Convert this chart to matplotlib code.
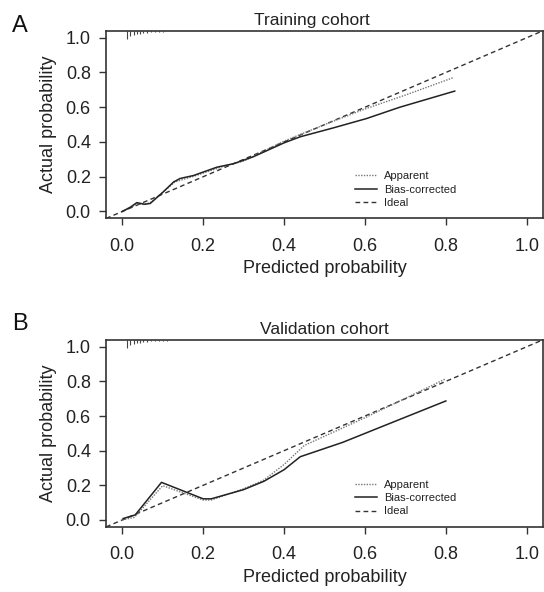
import matplotlib
matplotlib.use("Agg")
import matplotlib.pyplot as plt

plt.rcParams['font.family'] = ['Liberation Sans', 'DejaVu Sans']

# ---- data ----
train_app_x = [0.0, 0.02, 0.036, 0.055, 0.069, 0.1, 0.13, 0.18, 0.25, 0.3, 0.4, 0.5, 0.6, 0.7, 0.818]
train_app_y = [0.0, 0.02, 0.045, 0.04, 0.05, 0.11, 0.17, 0.205, 0.26, 0.29, 0.405, 0.5, 0.59, 0.67, 0.77]
train_bc_x = [0.0, 0.02, 0.036, 0.055, 0.069, 0.1, 0.127, 0.143, 0.176, 0.234, 0.275, 0.324, 0.4, 0.44, 0.52, 0.604, 0.686, 0.822]
train_bc_y = [0.0, 0.025, 0.051, 0.042, 0.046, 0.11, 0.17, 0.19, 0.207, 0.255, 0.275, 0.315, 0.395, 0.43, 0.48, 0.535, 0.6, 0.693]

val_app_x = [0.0, 0.03, 0.1, 0.2, 0.22, 0.3, 0.35, 0.4, 0.45, 0.6, 0.8]
val_app_y = [0.0, 0.015, 0.198, 0.115, 0.115, 0.18, 0.23, 0.32, 0.43, 0.59, 0.815]
val_bc_x = [0.002, 0.032, 0.097, 0.2, 0.22, 0.3, 0.35, 0.4, 0.44, 0.545, 0.627, 0.8]
val_bc_y = [0.008, 0.029, 0.217, 0.122, 0.122, 0.175, 0.223, 0.29, 0.365, 0.448, 0.525, 0.687]

rug_x = [0.012, 0.02, 0.028, 0.036, 0.044, 0.052, 0.06, 0.07, 0.08, 0.09, 0.1, 0.11]
rug_h = [0.045, 0.03, 0.025, 0.02, 0.016, 0.013, 0.011, 0.009, 0.007, 0.006, 0.005, 0.004]

ticks = [0.0, 0.2, 0.4, 0.6, 0.8, 1.0]
tick_labels = ['0.0', '0.2', '0.4', '0.6', '0.8', '1.0']
panels = [
    ('A', 'Training cohort', train_app_x, train_app_y, train_bc_x, train_bc_y),
    ('B', 'Validation cohort', val_app_x, val_app_y, val_bc_x, val_bc_y),
]

txt = '#222222'
fig = plt.figure(figsize=(5.44, 5.92), dpi=100)
rects = [[0.195, 0.631, 0.803, 0.317], [0.195, 0.110, 0.803, 0.316]]
title_x = [0.47, 0.5]
letter_y = [1 - 32 / 592, 1 - 330 / 592]

for i, (rect, (lab, title, ax_x, ax_y, bx, by)) in enumerate(zip(rects, panels)):
    ax = fig.add_axes(rect)
    ax.set_xlim(-0.04, 1.04)
    ax.set_ylim(-0.04, 1.04)
    ax.axline((0, 0), slope=1, color='#333333', lw=1.0, ls=(0, (3.4, 2.4)), label='Ideal', zorder=2)
    ax.plot(ax_x, ax_y, color='#777777', lw=1.0, ls=(0, (1, 1)), label='Apparent', zorder=3)
    ax.plot(bx, by, color='#222222', lw=1.1, label='Bias-corrected', zorder=4)
    top = 1.04
    ax.vlines(rug_x, [top - h for h in rug_h], top, color='#444444', lw=0.8)
    handles, labels = ax.get_legend_handles_labels()
    order = [labels.index('Apparent'), labels.index('Bias-corrected'), labels.index('Ideal')]
    ax.legend([handles[j] for j in order], [labels[j] for j in order],
              loc='lower left', bbox_to_anchor=(0.555, 0.02), frameon=False,
              fontsize=8, handlelength=2.0, handletextpad=0.6, labelspacing=0.3,
              labelcolor=txt, borderaxespad=0.2)
    for s in ax.spines.values():
        s.set_color('#333333')
        s.set_linewidth(1.2)
    ax.set_xticks(ticks)
    ax.set_xticklabels(tick_labels)
    ax.set_yticks(ticks)
    ax.set_yticklabels(tick_labels)
    ax.tick_params(direction='out', length=5, width=1.0, color='#333333',
                   labelsize=13, labelcolor=txt, pad=6)
    ax.tick_params(axis='x', pad=9)
    ax.set_xlabel('Predicted probability', fontsize=13, color=txt, labelpad=4)
    ax.set_ylabel('Actual probability', fontsize=13, color=txt, labelpad=6)
    ax.set_title(title, fontsize=12.5, color=txt, pad=4, x=title_x[i])
    fig.text(0.022, letter_y[i], lab, fontsize=17, color='#111111', va='baseline', ha='left')

fig.savefig('out.png', dpi=100)
